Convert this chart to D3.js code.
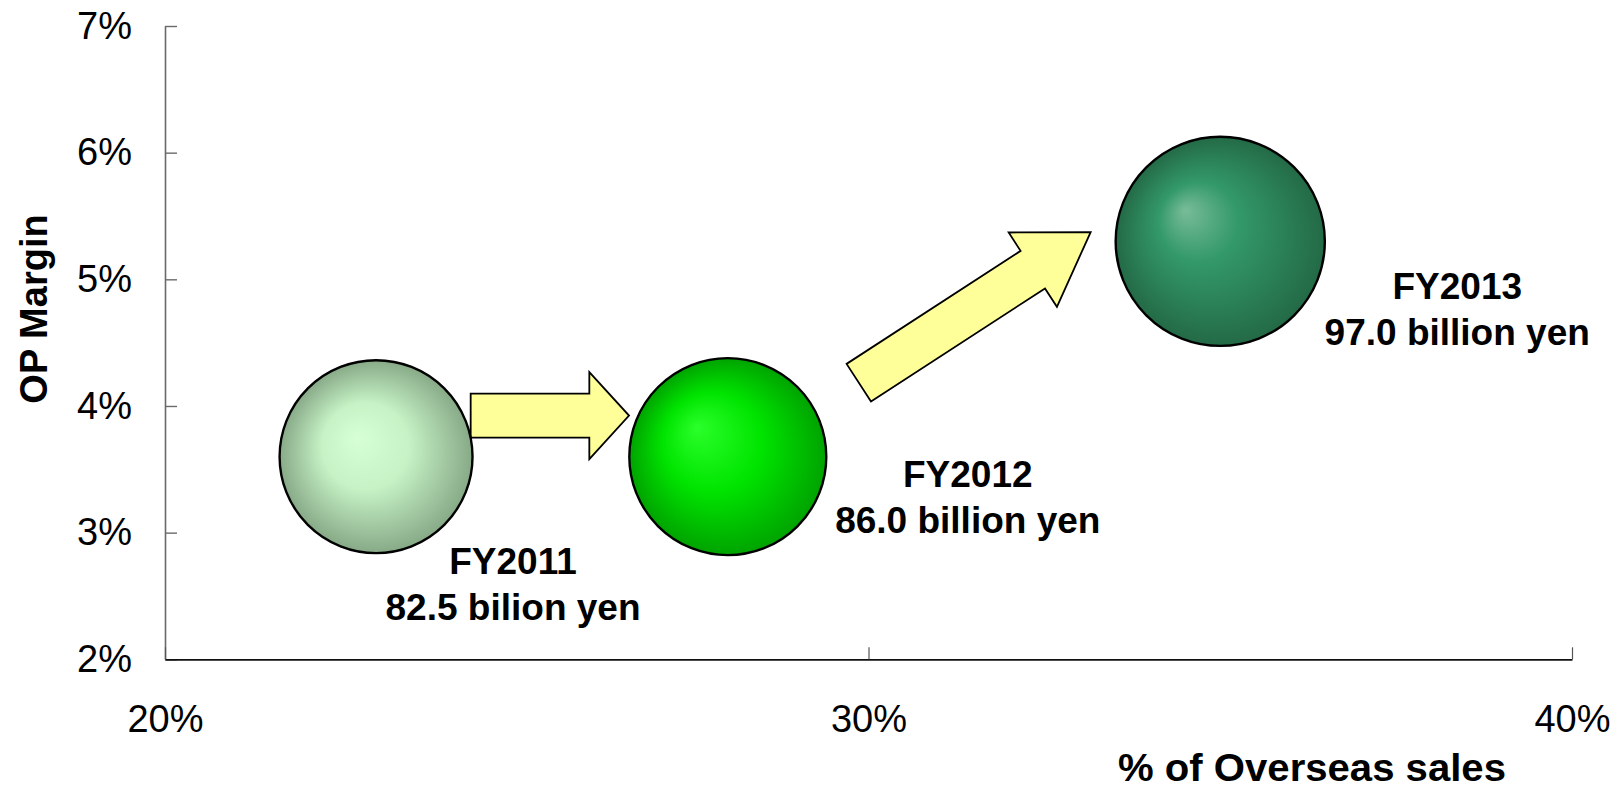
<!DOCTYPE html>
<html>
<head>
<meta charset="utf-8">
<script src="https://cdn.jsdelivr.net/npm/d3@7"></script>
<style>
  html, body { margin: 0; padding: 0; background: #fff; }
  svg { display: block; }
</style>
</head>
<body>
<svg id="chart" width="1616" height="792"></svg>
<script>
// ---------------- data ----------------
const categories      = ["FY2011", "FY2012", "FY2013"];
const overseasShare   = [23.0, 28.0, 35.0];      // % of overseas sales (x)
const opMargin        = [3.6, 3.6, 5.3];         // OP margin % (y)
const operatingProfit = [82.5, 86.0, 97.0];      // bubble size (billion yen)
const profitLabels    = ["82.5 bilion yen", "86.0 billion yen", "97.0 billion yen"];
const xTickValues     = [20, 30, 40];
const yTickValues     = [2, 3, 4, 5, 6, 7];
const xTitle = "% of Overseas sales";
const yTitle = "OP Margin";

// ---------------- layout ----------------
const W = 1616, H = 792;
const plot = { left: 165, right: 1572, top: 26, bottom: 659.3 };
const labelOffsets = [[137, 117], [240, 30], [237, 58]];   // px from bubble centre to first baseline
const lineGap = 46;
// block arrows, given in data units (tail centre -> tip)
const arrows = [
  { from: [24.345, 3.924], to: [26.596, 3.924], shaft: 22, head: 43.5, headLen: 39.7 },
  { from: [29.862, 4.184], to: [33.158, 5.373], shaft: 22.4, head: 44.3, headLen: 69 }
];
const gradients = [
  { id: "g0", fx: "40%", fy: "40%", stops: [["0%", "#d6ffd6"], ["45%", "#c6f2c6"], ["100%", "#87a987"]] },
  { id: "g1", fx: "34%", fy: "35%", stops: [["0%", "#2aff2a"], ["50%", "#00e400"], ["100%", "#00a300"]] },
  { id: "g2", fx: "33%", fy: "35%", stops: [["0%", "#78bc98"], ["38%", "#33996a"], ["100%", "#236a46"]] }
];

const svg = d3.select("#chart");
const FONT = "'Liberation Sans', Arial, Helvetica, sans-serif";

const x = d3.scaleLinear().domain([20, 40]).range([plot.left, plot.right]);
const y = d3.scaleLinear().domain([2, 7]).range([plot.bottom, plot.top]);
const r = d3.scaleSqrt().domain([0, 97]).range([0, 104.6]);

// gradients
const defs = svg.append("defs");
gradients.forEach(g => {
  const rg = defs.append("radialGradient").attr("id", g.id)
    .attr("cx", "50%").attr("cy", "50%").attr("r", "50%")
    .attr("fx", g.fx).attr("fy", g.fy);
  g.stops.forEach(s => rg.append("stop").attr("offset", s[0]).attr("stop-color", s[1]));
});

// y axis
const yAxis = d3.axisLeft(y).tickValues(yTickValues)
  .tickFormat(d => d + "%").tickSizeInner(-12).tickSizeOuter(0).tickPadding(33);
const gy = svg.append("g").attr("transform", `translate(${plot.left},0)`).call(yAxis);
gy.select(".domain").attr("stroke", "#6a6a6a").attr("stroke-width", 1.6);
gy.selectAll(".tick line").attr("stroke", "#6a6a6a").attr("stroke-width", 1.4);
gy.selectAll(".tick text").attr("font-family", FONT).attr("font-size", 38).attr("fill", "#000");

// x axis
const xAxis = d3.axisBottom(x).tickValues(xTickValues)
  .tickFormat(d => d + "%").tickSizeInner(-12).tickSizeOuter(0).tickPadding(46);
const gx = svg.append("g").attr("transform", `translate(0,${plot.bottom})`).call(xAxis);
gx.select(".domain").attr("stroke", "#111").attr("stroke-width", 1.8);
gx.selectAll(".tick line").attr("stroke", "#555").attr("stroke-width", 1.2);
gx.selectAll(".tick text").attr("font-family", FONT).attr("font-size", 38).attr("fill", "#000");

// axis titles
svg.append("text")
  .attr("transform", `translate(46.7,309) rotate(-90)`)
  .attr("text-anchor", "middle")
  .attr("font-family", FONT).attr("font-weight", "bold").attr("font-size", 38)
  .text(yTitle);
svg.append("text")
  .attr("x", 1312).attr("y", 781)
  .attr("text-anchor", "middle")
  .attr("font-family", FONT).attr("font-weight", "bold").attr("font-size", 39)
  .attr("textLength", 388).attr("lengthAdjust", "spacingAndGlyphs")
  .text(xTitle);

// arrows
function blockArrow(a) {
  const x0 = x(a.from[0]), y0 = y(a.from[1]), x1 = x(a.to[0]), y1 = y(a.to[1]);
  const dx = x1 - x0, dy = y1 - y0, L = Math.hypot(dx, dy);
  const ux = dx / L, uy = dy / L, nx = -uy, ny = ux;
  const bx = x1 - ux * a.headLen, by = y1 - uy * a.headLen;
  const pts = [
    [x0 + nx * a.shaft, y0 + ny * a.shaft],
    [bx + nx * a.shaft, by + ny * a.shaft],
    [bx + nx * a.head, by + ny * a.head],
    [x1, y1],
    [bx - nx * a.head, by - ny * a.head],
    [bx - nx * a.shaft, by - ny * a.shaft],
    [x0 - nx * a.shaft, y0 - ny * a.shaft]
  ];
  return "M" + pts.map(p => p.join(",")).join("L") + "Z";
}
svg.append("g").selectAll("path").data(arrows).join("path")
  .attr("d", blockArrow)
  .attr("fill", "#ffff99").attr("stroke", "#000").attr("stroke-width", 1.8)
  .attr("stroke-linejoin", "miter");

// bubbles
const points = categories.map((c, i) => ({
  cat: c, x: overseasShare[i], y: opMargin[i], v: operatingProfit[i], lab: profitLabels[i], i
}));
svg.append("g").selectAll("circle").data(points).join("circle")
  .attr("cx", d => x(d.x)).attr("cy", d => y(d.y)).attr("r", d => r(d.v))
  .attr("fill", d => `url(#g${d.i})`)
  .attr("stroke", "#000").attr("stroke-width", 2.4);

// labels
const lg = svg.append("g").selectAll("text").data(points).join("text")
  .attr("text-anchor", "middle")
  .attr("font-family", FONT).attr("font-weight", "bold").attr("font-size", 37)
  .attr("fill", "#000");
lg.append("tspan")
  .attr("x", d => x(d.x) + labelOffsets[d.i][0])
  .attr("y", d => y(d.y) + labelOffsets[d.i][1])
  .text(d => d.cat);
lg.append("tspan")
  .attr("x", d => x(d.x) + labelOffsets[d.i][0])
  .attr("y", d => y(d.y) + labelOffsets[d.i][1] + lineGap)
  .text(d => d.lab);
</script>
</body>
</html>
